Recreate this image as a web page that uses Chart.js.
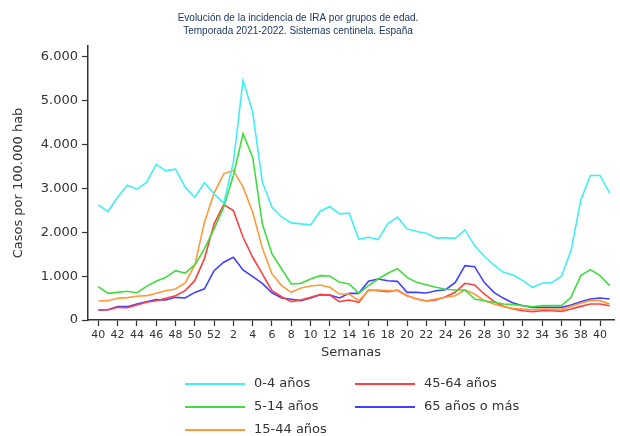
<!DOCTYPE html>
<html>
<head>
<meta charset="utf-8">
<script src="https://cdn.jsdelivr.net/npm/chart.js@4.4.1/dist/chart.umd.min.js"></script>
<style>
  html, body { margin: 0; padding: 0; background: #fff; }
  #wrap { width: 620px; height: 436px; position: relative; }
</style>
</head>
<body>
<div id="wrap"><canvas id="chart"></canvas></div>
<script>
// semanas de la temporada 2021-2022 (40..52, 1..41)
const weeks = [40, 41, 42, 43, 44, 45, 46, 47, 48, 49, 50, 51, 52,
  1, 2, 3, 4, 5, 6, 7, 8, 9, 10, 11, 12, 13, 14, 15, 16, 17, 18, 19, 20,
  21, 22, 23, 24, 25, 26, 27, 28, 29, 30, 31, 32, 33, 34, 35, 36, 37, 38, 39, 40, 41];

const seriesNames = ['0-4 años', '5-14 años', '15-44 años', '45-64 años', '65 años o más'];
const seriesColors = ['#40eef4', '#40dc40', '#ff9a3c', '#ff4040', '#4040ff'];

const ages0_4 = [2626, 2474, 2801, 3076, 2985, 3137, 3548, 3403, 3441, 3030, 2801, 3129, 2878,
  2665, 3600, 5467, 4744, 3144, 2573, 2350, 2215, 2192, 2169, 2481, 2588, 2420, 2436, 1842, 1888,
  1835, 2192, 2345, 2078, 2017, 1979, 1873, 1873, 1865, 2055, 1697, 1453, 1255, 1088, 1027, 898,
  745, 837, 852, 997, 1583, 2725, 3297, 3297, 2893];
const ages5_14 = [760, 608, 631, 654, 623, 768, 882, 973, 1126, 1072, 1256, 1622, 2079,
  2573, 3296, 4249, 3716, 2193, 1508, 1164, 821, 836, 935, 1011, 1004, 859, 821, 608, 783,
  935, 1065, 1172, 973, 859, 806, 745, 700, 684, 684, 479, 441, 403, 365, 350, 327,
  304, 327, 327, 327, 517, 1012, 1149, 1012, 783];
const ages15_44 = [433, 441, 494, 510, 540, 555, 608, 669, 707, 844, 1250, 2230, 2893,
  3335, 3411, 3030, 2459, 1640, 1051, 784, 631, 730, 776, 798, 745, 592, 592, 441, 669,
  684, 669, 669, 555, 479, 441, 479, 520, 555, 684, 593, 441, 365, 304, 266, 251,
  235, 251, 243, 243, 311, 380, 441, 441, 365];
const ages45_64 = [228, 235, 289, 281, 342, 403, 441, 494, 555, 669, 897, 1400, 2193,
  2634, 2497, 1888, 1431, 1051, 670, 530, 419, 456, 517, 578, 570, 419, 456, 403, 684,
  669, 646, 684, 555, 479, 433, 456, 530, 631, 837, 798, 593, 426, 311, 251, 212,
  190, 212, 212, 197, 251, 311, 365, 365, 327];
const ages65 = [228, 235, 304, 304, 365, 418, 464, 456, 517, 502, 630, 710, 1125,
  1317, 1431, 1142, 989, 837, 620, 502, 472, 441, 502, 578, 570, 502, 608, 608, 882,
  935, 897, 882, 631, 631, 616, 669, 690, 859, 1240, 1217, 859, 631, 494, 388, 327,
  289, 289, 289, 289, 342, 418, 479, 502, 479];

const yTicks = [0, 1000, 2000, 3000, 4000, 5000, 6000];
const titleLines = ['Evolución de la incidencia de IRA por grupos de edad.',
  'Temporada 2021-2022. Sistemas centinela. España'];

const allSeries = [ages0_4, ages5_14, ages15_44, ages45_64, ages65];

const datasets = allSeries.map((values, k) => ({
  label: seriesNames[k],
  data: values.map((v, i) => ({ x: i, y: v })),
  borderColor: seriesColors[k],
  backgroundColor: seriesColors[k],
  borderWidth: 1.6,
  pointRadius: 0,
  tension: 0,
  fill: false
}));

const axisColor = '#333333';
const textFont = 'DejaVu Sans';

// título y leyenda en dos columnas
const overlay = {
  id: 'overlay',
  afterDraw(chart) {
    const ctx = chart.ctx;
    ctx.save();
    ctx.fillStyle = '#1f3864';
    ctx.font = '10px "Liberation Sans", sans-serif';
    ctx.textAlign = 'center';
    ctx.textBaseline = 'middle';
    titleLines.forEach((t, k) => ctx.fillText(t, 298, 18 + k * 13));

    ctx.textAlign = 'left';
    ctx.font = '13px "' + textFont + '"';
    chart.data.datasets.forEach((ds, k) => {
      const col = Math.floor(k / 3), row = k % 3;
      const x0 = 185 + col * 170;
      const y = 384 + row * 23;
      ctx.strokeStyle = ds.borderColor;
      ctx.lineWidth = 2;
      ctx.beginPath();
      ctx.moveTo(x0, y);
      ctx.lineTo(x0 + 60, y);
      ctx.stroke();
      ctx.fillStyle = '#333333';
      ctx.fillText(ds.label, x0 + 69, y);
    });
    ctx.restore();
  }
};

new Chart(document.getElementById('chart'), {
  type: 'line',
  data: { datasets },
  options: {
    responsive: true,
    maintainAspectRatio: false,
    animation: false,
    layout: { padding: { top: 46, right: 6, bottom: 76, left: 0 } },
    plugins: {
      legend: { display: false },
      title: { display: false },
      tooltip: { enabled: false }
    },
    scales: {
      x: {
        type: 'linear',
        min: -1.07,
        max: 53.45,
        afterBuildTicks: (scale) => {
          scale.ticks = weeks.map((w, i) => i).filter(i => i % 2 === 0).map(i => ({ value: i }));
        },
        afterFit: (scale) => { scale.height = 40; },
        ticks: {
          autoSkip: false,
          maxRotation: 0,
          padding: 3,
          color: '#333333',
          font: { family: textFont, size: 11 },
          callback: (v) => weeks[v]
        },
        grid: { drawOnChartArea: false, tickLength: 6, tickColor: axisColor, tickWidth: 1.2 },
        border: { display: true, color: axisColor, width: 1.5 },
        title: {
          display: true,
          text: 'Semanas',
          color: '#333333',
          font: { family: textFont, size: 13 },
          padding: { top: 0, bottom: 0 }
        }
      },
      y: {
        min: 0,
        max: 6250,
        afterBuildTicks: (scale) => {
          scale.ticks = yTicks.map(v => ({ value: v }));
        },
        afterFit: (scale) => { scale.width = 88; },
        ticks: {
          padding: 4,
          color: '#333333',
          font: { family: textFont, size: 13 },
          callback: (v) => v.toLocaleString('de-DE')
        },
        grid: { drawOnChartArea: false, tickLength: 6, tickColor: axisColor, tickWidth: 1.2 },
        border: { display: true, color: axisColor, width: 1.5 },
        title: {
          display: true,
          text: 'Casos por 100.000 hab',
          color: '#333333',
          font: { family: textFont, size: 13 },
          padding: { top: 11, bottom: 0 }
        }
      }
    }
  },
  plugins: [overlay]
});
</script>
</body>
</html>
